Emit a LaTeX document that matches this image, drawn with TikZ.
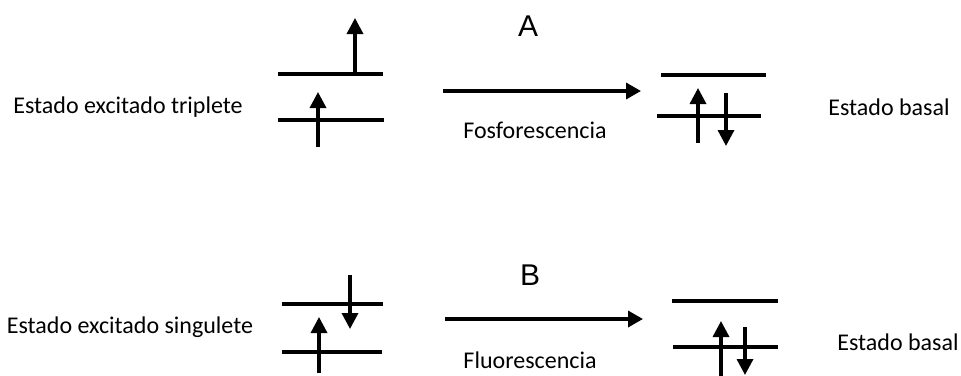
\documentclass[tikz,border=0pt]{standalone}
\usepackage{fontspec}
\setmainfont{Carlito}
\newfontfamily\arialfont{Liberation Sans}
\usetikzlibrary{arrows.meta}
\begin{document}
\begin{tikzpicture}[x=1pt,y=-1pt,
  level/.style={line width=3.4pt},
  spin/.style={line width=3.4pt,-{Triangle[width=16pt,length=16pt]}},
  trans/.style={line width=3.4pt,-{Triangle[width=16pt,length=15pt]}},
  lbl/.style={font=\fontsize{24}{28}\selectfont,inner sep=0pt},
  big/.style={font=\arialfont\fontsize{30}{34}\selectfont,inner sep=0pt}]
\useasboundingbox (0,0) rectangle (961,375);
% --- A: triplet ---
\coordinate (a1l) at (278,74);  \coordinate (a1r) at (383,74);
\coordinate (a0l) at (278,120); \coordinate (a0r) at (384,120);
\draw[level] (a1l) -- (a1r);
\draw[level] (a0l) -- (a0r);
\coordinate (s1b) at (355,75); \coordinate (s1t) at (355,18);
\coordinate (s2b) at (318,147); \coordinate (s2t) at (318,92);
\draw[spin] (s1b) -- (s1t);
\draw[spin] (s2b) -- (s2t);
% ground A
\coordinate (g1l) at (661,75);  \coordinate (g1r) at (766,75);
\coordinate (g0l) at (657,116); \coordinate (g0r) at (761,116);
\draw[level] (g1l) -- (g1r);
\draw[level] (g0l) -- (g0r);
\coordinate (s3b) at (698,143); \coordinate (s3t) at (698,88);
\coordinate (s4b) at (726,93);  \coordinate (s4t) at (726,146);
\draw[spin] (s3b) -- (s3t);
\draw[spin] (s4b) -- (s4t);
% transition A
\coordinate (ta1) at (443,91); \coordinate (ta2) at (641,91);
\draw[trans] (ta1) -- (ta2);
\node[big] (A) at (528,26) {A};
\node[lbl] (fos) at (535,130) {Fosforescencia};
\node[lbl] (trip) at (128,107) {Estado excitado triplete};
\node[lbl] (basA) at (889,107) {Estado basal};
% --- B: singlet ---
\coordinate (b1l) at (282,304); \coordinate (b1r) at (383,304);
\coordinate (b0l) at (282,352); \coordinate (b0r) at (382,352);
\draw[level] (b1l) -- (b1r);
\draw[level] (b0l) -- (b0r);
\coordinate (s5b) at (350,275); \coordinate (s5t) at (350,329);
\coordinate (s6b) at (319,373); \coordinate (s6t) at (319,317);
\draw[spin] (s5b) -- (s5t);
\draw[spin] (s6b) -- (s6t);
% ground B
\coordinate (h1l) at (672,301); \coordinate (h1r) at (778,301);
\coordinate (h0l) at (673,347); \coordinate (h0r) at (778,347);
\draw[level] (h1l) -- (h1r);
\draw[level] (h0l) -- (h0r);
\coordinate (s7b) at (721,376); \coordinate (s7t) at (721,321);
\coordinate (s8b) at (745,327); \coordinate (s8t) at (745,375);
\draw[spin] (s7b) -- (s7t);
\draw[spin] (s8b) -- (s8t);
% transition B
\coordinate (tb1) at (445,319); \coordinate (tb2) at (643,319);
\draw[trans] (tb1) -- (tb2);
\node[big] (B) at (530,275) {B};
\node[lbl] (flu) at (530,360) {Fluorescencia};
\node[lbl] (sing) at (130,327) {Estado excitado singulete};
\node[lbl] (basB) at (898,342) {Estado basal};
\end{tikzpicture}
\end{document}
